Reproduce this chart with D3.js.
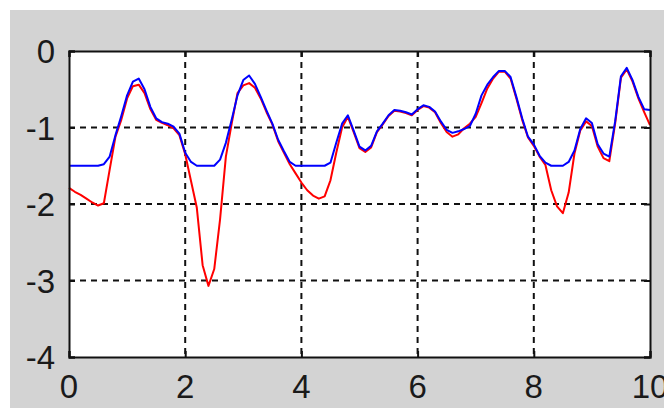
<!DOCTYPE html>
<html>
<head>
<meta charset="utf-8">
<script src="https://cdn.jsdelivr.net/npm/d3@7"></script>
<style>
  html, body { margin: 0; padding: 0; background: #ffffff; }
  svg { display: block; }
  .tick-label { font-family: "Liberation Sans Narrow", "Liberation Sans", Arial, sans-serif; font-size: 33px; fill: #1a1a1a; }
</style>
</head>
<body>
<svg id="chart" width="664" height="408"></svg>
<script>
// Sample positions (seconds) shared by both traces
const xs = [
  0, 0.1, 0.2, 0.3, 0.4, 0.5, 0.6, 0.7, 0.8, 0.9,
  1.0, 1.1, 1.2, 1.3, 1.4, 1.5, 1.6, 1.7, 1.8, 1.9,
  2.0, 2.1, 2.2, 2.3, 2.4, 2.5, 2.6, 2.7, 2.8, 2.9,
  3.0, 3.1, 3.2, 3.3, 3.4, 3.5, 3.6, 3.7, 3.8, 3.9,
  4.0, 4.1, 4.2, 4.3, 4.4, 4.5, 4.6, 4.7, 4.8, 4.9,
  5.0, 5.1, 5.2, 5.3, 5.4, 5.5, 5.6, 5.7, 5.8, 5.9,
  6.0, 6.1, 6.2, 6.3, 6.4, 6.5, 6.6, 6.7, 6.8, 6.9,
  7.0, 7.1, 7.2, 7.3, 7.4, 7.5, 7.6, 7.7, 7.8, 7.9,
  8.0, 8.1, 8.2, 8.3, 8.4, 8.5, 8.6, 8.7, 8.8, 8.9,
  9.0, 9.1, 9.2, 9.3, 9.4, 9.5, 9.6, 9.7, 9.8, 9.9,
  10.0
];

// Raw signal (red)
const rawSignal = [
  -1.79, -1.84, -1.88, -1.93, -1.98, -2.02, -1.99, -1.55, -1.12, -0.90,
  -0.62, -0.46, -0.44, -0.55, -0.76, -0.90, -0.94, -0.97, -1.01, -1.10,
  -1.35, -1.70, -2.05, -2.80, -3.07, -2.85, -2.20, -1.38, -0.95, -0.55,
  -0.45, -0.42, -0.48, -0.62, -0.80, -0.96, -1.18, -1.33, -1.48, -1.60,
  -1.72, -1.82, -1.89, -1.93, -1.90, -1.69, -1.33, -1.00, -0.86, -1.06,
  -1.27, -1.32, -1.26, -1.06, -0.96, -0.85, -0.78, -0.79, -0.81, -0.84,
  -0.77, -0.72, -0.74, -0.80, -0.94, -1.06, -1.12, -1.09, -1.01, -0.95,
  -0.86, -0.68, -0.49, -0.36, -0.27, -0.27, -0.36, -0.62, -0.90, -1.13,
  -1.24, -1.38, -1.49, -1.82, -2.03, -2.12, -1.85, -1.34, -1.04, -0.92,
  -0.98, -1.25, -1.40, -1.44, -0.95, -0.35, -0.24, -0.40, -0.62, -0.80,
  -0.97
];

// Limited signal (blue)
const limitedSignal = [
  -1.50, -1.50, -1.50, -1.50, -1.50, -1.50, -1.48, -1.38, -1.10, -0.85,
  -0.58, -0.40, -0.36, -0.50, -0.73, -0.88, -0.93, -0.95, -0.99, -1.08,
  -1.33, -1.45, -1.50, -1.50, -1.50, -1.50, -1.42, -1.20, -0.90, -0.58,
  -0.38, -0.32, -0.43, -0.60, -0.78, -0.95, -1.16, -1.31, -1.45, -1.50,
  -1.50, -1.50, -1.50, -1.50, -1.50, -1.46, -1.20, -0.95, -0.84, -1.04,
  -1.25, -1.30, -1.24, -1.05, -0.95, -0.84, -0.77, -0.78, -0.80, -0.83,
  -0.76, -0.71, -0.73, -0.79, -0.92, -1.03, -1.07, -1.05, -1.02, -0.98,
  -0.82, -0.58, -0.44, -0.34, -0.26, -0.26, -0.34, -0.60, -0.88, -1.12,
  -1.22, -1.37, -1.46, -1.50, -1.50, -1.50, -1.45, -1.30, -1.02, -0.88,
  -0.94, -1.22, -1.34, -1.38, -0.92, -0.33, -0.22, -0.38, -0.60, -0.76,
  -0.77
];

const xTicks = [0, 2, 4, 6, 8, 10];
const yTicks = [0, -1, -2, -3, -4];

const svg = d3.select("#chart");
const W = 664, H = 408;

// Figure backdrop
svg.append("rect").attr("x", 10).attr("y", 10).attr("width", W - 10).attr("height", H - 10)
  .attr("fill", "#d3d3d3");

const plotL = 69, plotR = 650, plotT = 51, plotB = 357;
const x = d3.scaleLinear().domain([0, 10]).range([plotL, plotR]);
const y = d3.scaleLinear().domain([-4, 0]).range([plotB, plotT]);

// Plot area
svg.append("rect").attr("x", plotL).attr("y", plotT)
  .attr("width", plotR - plotL).attr("height", plotB - plotT).attr("fill", "#ffffff");

// Dashed grid
const grid = svg.append("g");
grid.selectAll("line.gx").data(xTicks.slice(1, -1)).join("line")
  .attr("x1", d => x(d)).attr("x2", d => x(d)).attr("y1", plotT).attr("y2", plotB)
  .attr("stroke", "#111").attr("stroke-width", 2).attr("stroke-dasharray", "6,5");
grid.selectAll("line.gy").data(yTicks.slice(1, -1)).join("line")
  .attr("y1", d => y(d)).attr("y2", d => y(d)).attr("x1", plotL).attr("x2", plotR)
  .attr("stroke", "#111").attr("stroke-width", 2).attr("stroke-dasharray", "6,5");

// Traces
const line = d3.line().x((d, i) => x(xs[i])).y(d => y(d));
svg.append("path").datum(rawSignal).attr("d", line)
  .attr("fill", "none").attr("stroke", "#ff0000").attr("stroke-width", 2).attr("stroke-linejoin", "round");
svg.append("path").datum(limitedSignal).attr("d", line)
  .attr("fill", "none").attr("stroke", "#0000ff").attr("stroke-width", 2).attr("stroke-linejoin", "round");

// Axes box with inward ticks
const xAxisB = d3.axisBottom(x).tickValues(xTicks).tickSize(-6).tickFormat("");
const xAxisT = d3.axisTop(x).tickValues(xTicks).tickSize(-6).tickFormat("");
const yAxisL = d3.axisLeft(y).tickValues(yTicks).tickSize(-6).tickFormat("");
const yAxisR = d3.axisRight(y).tickValues(yTicks).tickSize(-6).tickFormat("");
[[xAxisB, `translate(0,${plotB})`], [xAxisT, `translate(0,${plotT})`],
 [yAxisL, `translate(${plotL},0)`], [yAxisR, `translate(${plotR},0)`]].forEach(([ax, tr]) => {
  const g = svg.append("g").attr("transform", tr).call(ax);
  g.select(".domain").attr("stroke", "#111").attr("stroke-width", 2);
  g.selectAll(".tick line").attr("stroke", "#111").attr("stroke-width", 2);
});

// Tick labels
svg.selectAll("text.xl").data(xTicks).join("text")
  .attr("class", "tick-label").attr("x", d => x(d)).attr("y", 398)
  .attr("text-anchor", "middle").text(d => d);
svg.selectAll("text.yl").data(yTicks).join("text")
  .attr("class", "tick-label").attr("x", 55).attr("y", d => y(d) + 12)
  .attr("text-anchor", "end").text(d => d === 0 ? "0" : "-" + Math.abs(d));
</script>
</body>
</html>
